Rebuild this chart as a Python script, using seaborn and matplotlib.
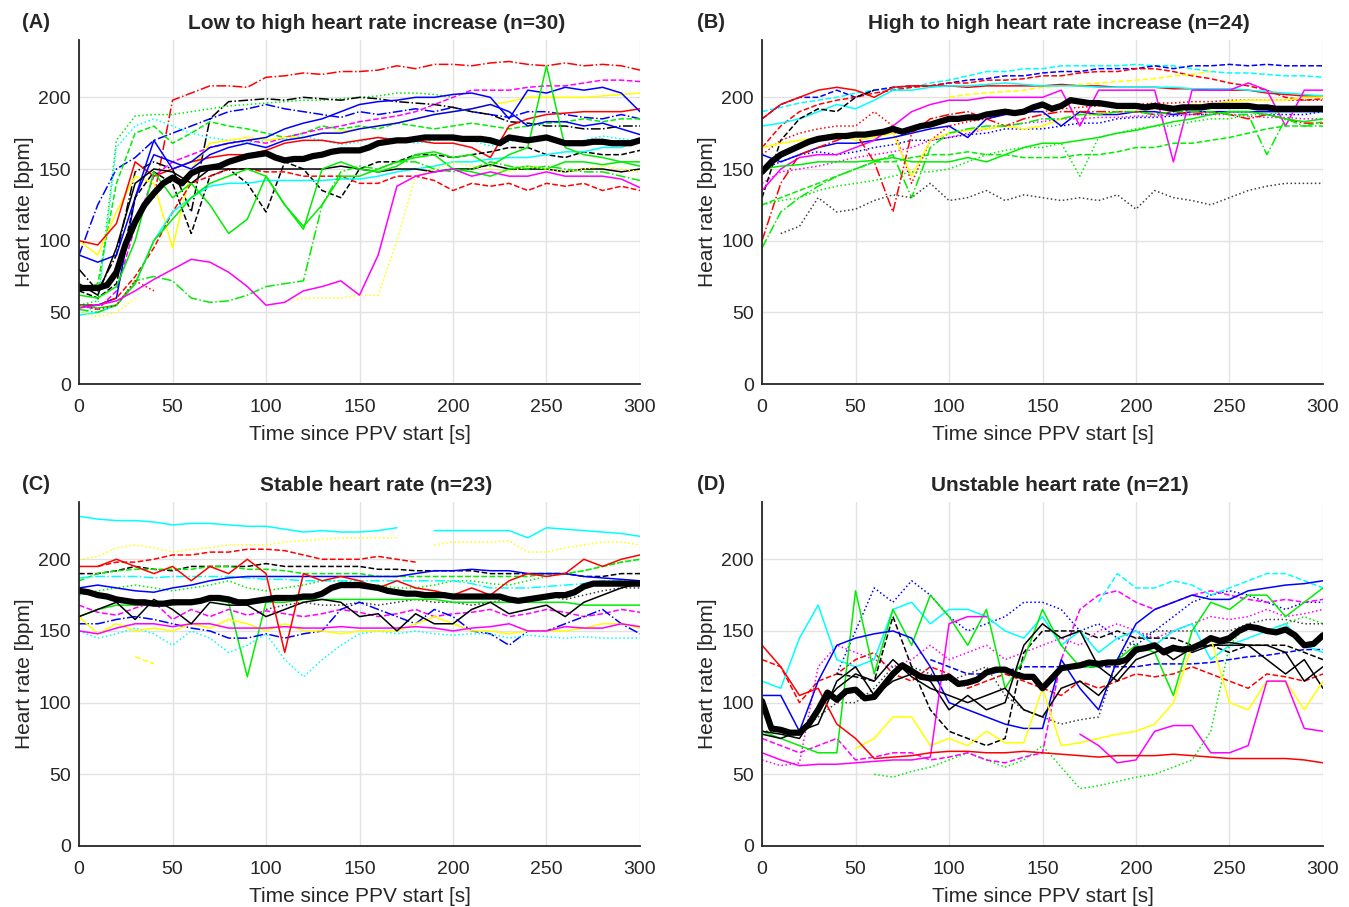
import numpy as np
import pandas as pd
import seaborn as sns
import matplotlib
matplotlib.use('Agg')
import matplotlib.pyplot as plt

N = np.nan
T10 = list(range(0, 301, 10))
T5 = list(range(0, 301, 5))

# ---------- (A) Low to high heart rate increase ----------
A_MEAN = [67, 67, 67, 69, 78, 98, 113, 125, 133, 140, 144, 140, 147, 150, 151, 152, 155, 157, 159, 160,
          161, 158, 156, 157, 157, 159, 160, 162, 163, 163, 163, 165, 168, 169, 170, 170, 171, 172, 172, 172,
          172, 171, 171, 171, 170, 168, 172, 171, 170, 171, 172, 170, 168, 168, 168, 169, 169, 168, 168, 168, 170]
A_RED_DD = [N, N, N, N, 130, 198, 203, 208, 208, 207, 214, 215, 217, 216, 218, 218, 219, 222, 220, 223,
            223, 222, 224, 225, 223, 222, 224, 222, 223, 222, 219]
A_GRN_DOT = [55, 58, 170, 187, 188, 188, 190, 192, 194, 195, 196, 197, 198, 198, 199, 200, 201, 203, 203, 202,
             200, N, N, N, N, N, N, N, N, N, N]
A_BLU_DD = [90, 125, 150, 158, 170, 175, 180, 185, 190, 192, 195, 192, 190, 188, 186, 190, 188, 190, 192, 190,
            193, 190, 188, 186, 190, 190, 188, 186, 185, 188, 185]
A_BLU_1 = [55, 55, 60, 130, 170, 150, 155, 165, 168, 170, 172, 178, 182, 185, 190, 195, 197, 198, 200, 200,
           202, 203, 200, 185, 205, 203, 207, 205, 207, 203, 190]
A_BLU_2 = [90, 85, 90, 130, 160, 155, 150, 160, 165, 168, 165, 170, 172, 175, 175, 178, 180, 182, 185, 188,
           190, 192, 195, 190, 180, 183, 183, 180, 182, 178, 174]
A_BLK_DD = [80, 65, 90, 148, 155, 150, 120, 185, 197, 198, 199, 198, 200, 199, 198, 200, 199, 197, 196, 195,
            193, 190, 188, 183, 182, 180, 180, 178, 178, 180, 180]
A_YEL = [100, 90, 120, 145, 140, 95, 150, 168, 170, 172, 170, 172, 172, 175, 176, 178, 180, 182, 185, 188,
         190, 192, 195, 197, 200, 200, 200, 200, 201, 202, 203]
A_RED = [100, 97, 112, 155, 145, 150, 155, 158, 160, 160, 163, 168, 170, 170, 168, 170, 172, 170, 170, 168,
         168, 165, 158, 180, 185, 188, 189, 190, 190, 190, 192]
A_GRN_1 = [62, 60, 68, 100, 148, 130, 140, 125, 105, 115, 145, 125, 110, 125, 145, 145, 150, 155, 158, 160,
           150, 148, 145, 150, 152, 150, 155, 155, 153, 155, 155]
A_GRN_2 = [55, 53, 55, 70, 100, 115, 130, 140, 145, 150, 145, 125, 108, 150, 155, 150, 148, 152, 160, 162,
           158, 160, 152, 160, 165, 222, 165, 160, 158, 155, 152]
A_MAG = [53, 55, 58, 65, 73, 80, 87, 85, 78, 68, 55, 57, 65, 68, 72, 62, 90, 138, 145, 148,
         150, 145, 148, 145, 145, 148, 145, 145, 145, 143, 137]
A_GRN_DD = [52, 50, 55, 72, 75, 72, 60, 57, 58, 62, 68, 70, 72, 125, 148, 152, 150, 155, 155, 150,
            148, 150, 155, 152, 150, 152, 150, 148, 148, 145, 142]
A_YEL_DOT = [50, 47, 50, 60, N, N, N, N, N, N, N, 58, 60, 60, 60, 62, 62, 100, 145, 150,
             155, 152, 150, 148, 152, 150, 148, 150, 152, 150, 148]
A_CYN = [48, 50, 55, 70, 100, 120, 130, 138, 140, 140, 142, 142, 142, 142, 143, 143, 145, 148, 150, 152,
         155, 155, 157, 158, 158, 160, 162, 162, 165, 165, 170]
A_BLK = [70, 62, 95, 140, 150, 148, 140, 150, 150, 150, 150, 150, 150, 150, 152, 150, 148, 150, 150, 148,
         150, 150, 153, 150, 150, 150, 148, 150, 150, 148, 150]
A_BLK_DASH = [65, 60, 70, 130, 148, 140, 105, 145, 150, 140, 120, 155, 150, 135, 130, 150, 155, 155, 160, 160,
              158, 160, 162, 165, 165, 160, 158, 162, 160, 160, 163]
A_RED_DASH = [55, 55, 60, 75, 95, 120, 140, 145, 150, 150, 148, 148, 145, 145, 145, 140, 140, 145, 145, 142,
              135, 140, 138, 140, 135, 140, 138, 140, 135, 138, 135]
A_MAG_DASH = [55, 52, 65, 110, 145, 155, 160, 165, 168, 170, 168, 172, 175, 178, 180, 183, 185, 187, 190, 195,
              200, 205, 205, 205, 207, 208, 208, 210, 212, 212, 211]
A_RED_DOT = [55, 52, 55, 72, 65, N, N, N, N, N, N, N, N, N, N, N, N, N, N, N,
             N, N, N, N, N, N, N, N, N, N, N]
A_CYN_DOT = [48, 55, 165, 180, 185, 180, 175, 172, 170, 168, 170, 171, 173, 170, 167, 169, 172, 171, 168, 170,
             173, 170, 166, 169, 172, 171, 168, 170, 173, 171, 170]
A_GRN_DASH = [65, 70, 140, 175, 180, 168, 175, 183, 180, 178, 175, 172, 175, 180, 178, 180, 178, 182, 180, 178,
              180, 182, 180, 178, 180, 182, 183, 185, 183, 185, 185]

# ---------- (B) High to high heart rate increase ----------
B_MEAN = [148, 155, 160, 163, 166, 169, 171, 172, 173, 173, 174, 174, 175, 176, 178, 176, 178, 180, 181, 183,
          185, 185, 186, 186, 188, 189, 190, 189, 190, 193, 195, 192, 194, 198, 197, 196, 196, 195, 194, 194,
          194, 193, 194, 193, 192, 193, 193, 193, 194, 194, 194, 194, 194, 193, 193, 192, 192, 192, 192, 192, 192]
B_RED = [185, 195, 200, 205, 207, 205, 200, 207, 208, 208, 208, 207, 208, 208, 208, 208, 209, 208, 208, 207,
         207, 207, 206, 206, 205, 205, 205, 203, 202, 201, 201]
B_CYN = [180, 182, 185, 190, 195, 192, 198, 205, 205, 207, 208, 208, 209, 210, 209, 208, 208, 208, 207, 207,
         207, 207, 207, 206, 206, 206, 205, 204, 203, 202, 201]
B_CYN_DASH = [190, 193, 196, 198, 200, 203, 205, 206, 207, 210, 212, 215, 218, 218, 220, 220, 222, 222, 222, 222,
              223, 222, 222, 220, 218, 217, 217, 216, 215, 215, 214]
B_BLU_DASH = [185, 195, 200, 200, 205, 200, 205, 207, 208, 208, 210, 212, 213, 215, 215, 217, 218, 218, 220, 220,
              220, 222, 220, 222, 222, 223, 222, 223, 222, 222, 222]
B_RED_DASH = [165, 180, 190, 195, 198, 200, 203, 205, 207, 208, 210, 210, 212, 212, 213, 215, 215, 217, 218, 218,
              220, 220, 218, 215, 213, 210, 208, 205, 200, 198, 199]
B_RED_DD = [100, 140, 160, 165, 170, 175, 155, 120, 175, 185, 188, 190, 185, 180, 185, 188, 190, 190, 190, 190,
            190, 188, 190, 188, 190, 188, 185, 188, 185, 182, 182]
B_BLK_DASH = [130, 170, 185, 192, 190, 200, 205, N, N, N, N, N, N, N, N, N, N, N, N, N,
              N, N, N, N, N, N, N, N, N, N, N]
B_MAG = [135, 150, 158, 160, 160, 165, 170, 180, 190, 195, 198, 198, 200, 200, 200, 200, 205, 180, 205, 205,
         205, 205, 155, 205, 205, 205, 210, 205, 180, 205, 205]
B_YEL = [165, 168, 170, 172, 175, 170, 172, 175, 145, 170, 175, 177, 178, 180, 178, 180, 185, 188, 188, 190,
         190, 192, 192, 195, 195, 197, 198, 198, 198, 200, 200]
B_YEL_DASH = [N, N, N, N, N, N, N, N, N, N, 200, 202, 203, 204, 205, 207, 208, 209, 210, 211,
              212, 213, 215, 216, 218, N, N, N, N, N, N]
B_GRN = [150, 152, 153, 155, 155, 155, 156, 158, 155, 155, 155, 158, 155, 160, 165, 168, 168, 170, 172, 175,
         177, 180, 183, 185, 188, 190, 190, 188, 185, 183, 185]
B_GRN_DASH = [125, 130, 135, 140, 145, 150, 155, 155, 158, 160, 160, 162, 160, 160, 158, 158, 158, 160, 160, 162,
              165, 165, 168, 168, 170, 172, 175, 178, 180, 180, 183]
B_GRN_DD = [95, 120, 130, 138, 145, 150, 155, 160, 130, 165, 175, 178, 180, 180, 182, 185, 185, 188, 188, 190,
            190, 188, 190, 190, 190, 188, 188, 160, 185, 180, 180]
B_GRN_DOT = [125, 128, 130, 135, 138, 140, 142, 145, 148, 148, 150, 155, 160, 163, 165, 165, 168, 145, 172, 175,
             178, 180, 180, 183, 185, 185, 188, 188, 190, 190, 190]
B_GRY_DOT = [N, 105, 110, 130, 120, 122, 128, 132, 130, 140, 128, 130, 135, 128, 132, 130, 128, 130, 128, 132,
             122, 135, 130, 128, 125, 130, 135, 138, 140, 140, 140]
B_BLU = [160, 155, 160, 165, 168, 168, 170, 172, 175, 178, 180, 172, 185, 188, 190, 190, 180, 190, 188, 188,
         190, 190, 188, 190, 190, 190, 190, 190, 190, 190, 190]
B_BLU_DOT = [150, 155, 160, 162, 160, 162, 165, 167, 170, 170, 172, 174, 175, 178, 178, 178, 180, 182, 182, 185,
             186, 186, 187, 188, 188, 190, 190, 188, 188, 188, 190]
B_MAG_DOT = [140, 148, 150, 152, 155, 158, 160, 162, 165, 170, 172, 175, 178, 180, 182, 183, 185, 185, 186, 186,
             187, 187, 188, 188, 188, 188, 187, 186, 186, 185, 185]
B_RED_DOT = [160, 170, 175, 178, 180, 180, 190, 180, 140, 170, 180, 183, 185, 188, 190, 190, 192, 193, 194, 195,
             195, 196, 196, 197, 197, 198, 198, 198, 198, 198, 198]

# ---------- (C) Stable heart rate ----------
C_MEAN = [178, 177, 175, 174, 172, 171, 170, 170, 169, 169, 170, 170, 170, 171, 173, 173, 172, 170, 170, 171,
          172, 173, 173, 173, 174, 174, 176, 180, 182, 182, 182, 181, 180, 178, 177, 176, 176, 175, 175, 175,
          174, 174, 174, 174, 174, 174, 172, 171, 172, 173, 174, 175, 175, 177, 181, 183, 183, 183, 183, 183, 183]
C_CYN = [230, 228, 227, 227, 226, 224, 225, 225, 224, 223, 223, 221, 219, 220, 219, 219, 220, 222, N, 220,
         220, 220, 220, 220, 215, 222, 221, 220, 219, 218, 216]
C_YEL_DOT = [200, 202, 208, 210, 208, 205, 207, 208, 210, 210, 210, 212, 213, 214, 215, 215, 215, 215, N, 210,
             212, 212, 212, 213, 205, 205, 208, 210, 212, 212, 210]
C_RED_DASH = [N, 195, 198, 198, 200, 203, 203, 205, 205, 207, 207, 206, 203, 200, 200, 200, 202, 200, 198, N,
              N, N, N, N, N, N, N, N, N, N, N]
C_RED = [195, 195, 200, 195, 190, 195, 185, 195, 190, 200, 190, 135, 190, 185, 188, 185, 180, 185, 180, 178,
         175, 180, 175, 185, 190, 188, 190, 200, 195, 200, 203]
C_BLK_DASH = [190, 190, 192, 195, 193, 192, 195, 195, 195, 195, 197, 195, 195, 195, 195, 195, 193, 193, 192, 192,
              192, 192, 190, 190, 190, 190, 190, 188, 188, 190, 190]
C_GRN_DASH = [185, 190, 192, 193, 193, 193, 193, 195, 195, 193, 193, 192, 190, 190, 190, 190, 188, 188, 188, 188,
              188, 188, 188, 188, 188, 190, 190, 192, 195, 198, 200]
C_BLU = [180, 182, 180, 178, 177, 180, 182, 185, 187, 188, 188, 188, 188, 188, 188, 188, 188, 188, 190, 192,
         192, 193, 192, 192, 190, 190, 190, 188, 187, 186, 185]
C_CYN_DD = [187, 188, 188, 188, 187, 188, 188, 188, 188, 187, 186, 186, 185, 185, 185, 185, 185, 185, 185, 185,
            185, 183, 180, 180, 180, 181, 182, 183, 185, 185, 185]
C_GRN = [160, 165, 168, 168, 168, 168, 170, 172, 170, 118, 170, 170, 172, 172, 172, 172, 172, 172, 172, 172,
         170, 170, 170, 170, 170, 170, 170, 168, 168, 168, 168]
C_BLK = [160, 165, 170, 158, 172, 165, 155, 170, 168, 168, 160, 165, 170, 172, 170, 160, 162, 150, 162, 155,
         155, 165, 170, 162, 165, 168, 160, 170, 175, 180, 183]
C_MAG = [150, 148, 152, 155, 155, 153, 155, 155, 152, 152, 152, 153, 152, 152, 153, 152, 152, 152, 153, 152,
         150, 152, 153, 155, 150, 150, 153, 152, 152, 155, 153]
C_YEL = [160, 148, 155, 150, 152, 150, 155, 152, 158, 155, 150, 155, 150, 150, 148, 150, 150, 150, 155, 160,
         155, 150, 150, 148, 150, 150, 150, 152, 155, 155, 152]
C_BLU_DD = [155, 155, 158, 160, 158, 155, 152, 150, 145, 145, 148, 145, 148, 150, 165, 170, 165, 160, 155, 165,
            160, 150, 148, 140, 150, 150, 155, 160, 165, 155, 148]
C_CYN_DOT = [150, 145, 148, 152, 148, 140, 150, 145, 135, 140, 148, 130, 118, 130, 140, 148, 150, 148, 150, 148,
             147, 148, 148, 145, 147, 146, 145, 146, 145, 145, 145]
C_YEL_DASH = [N, N, N, 132, 127, N, N, N, N, N, N, N, N, N, N, N, N, N, N, N,
              N, N, N, N, N, N, N, N, N, N, N]
C_MAG_DASH = [168, 163, 161, 166, 170, 158, 165, 160, 165, 161, 164, 162, 160, 162, 165, 163, 160, 162, 165, 160,
              162, 163, 165, 160, 162, 165, 163, 160, 162, 165, 163]
C_GRY_DOT = [N, N, N, N, N, N, N, N, N, N, 165, 168, 170, 168, 168, 170, 168, 170, 172, 170,
             170, 168, 170, 172, 172, 175, 172, 175, 178, 180, 180]
C_GRN_DOT = [175, 178, 180, 182, 180, 178, 180, 182, 185, 180, 178, 180, 182, 185, 185, 183, 182, 180, 180, 182,
             185, 185, 183, 182, 185, 188, 190, 192, 195, 198, 200]

# ---------- (D) Unstable heart rate ----------
D_MEAN = [101, 82, 81, 79, 79, 85, 95, 107, 102, 108, 109, 103, 104, 112, 120, 126, 122, 118, 117, 117,
          118, 113, 114, 116, 121, 123, 123, 120, 118, 118, 110, 117, 124, 125, 126, 128, 127, 128, 128, 130,
          137, 138, 140, 135, 138, 137, 138, 141, 145, 143, 145, 150, 153, 152, 150, 149, 151, 147, 140, 141, 147]
D_RED = [140, 125, 105, 110, 85, 75, 61, 62, 63, 65, 66, 66, 65, 65, 66, 65, 64, 63, 62, 63,
         63, 63, 64, 63, 62, 61, 61, 61, 61, 60, 58]
D_CYN = [115, 110, 145, 168, 130, 125, 130, 165, 170, 155, 165, 165, 160, 150, 145, 160, 140, 150, 135, 145,
         150, 140, 150, 155, 130, 140, 145, 150, 155, 140, 135]
D_BLU = [105, 105, 80, 115, 140, 145, 148, 150, 145, 125, 100, 95, 90, 85, 82, 82, 130, 110, 95, 130,
         155, 165, 170, 175, 172, 172, 178, 180, 182, 183, 185]
D_GRN = [80, 75, 70, 65, 65, 178, 120, 165, 140, 175, 160, 140, 165, 110, 130, 165, 140, 125, 125, 130,
         140, 135, 105, 150, 170, 165, 175, 175, 160, 170, 180]
D_YEL = [N, N, N, N, N, 68, 75, 90, 90, 70, 75, 70, 80, 72, 72, 110, 70, 72, 75, 78,
         80, 85, 100, 140, 145, 100, 95, 115, 115, 95, 115]
D_MAG = [65, 60, 56, 57, 57, 58, 59, 60, 60, 62, 155, 160, 160, N, N, N, N, N, N, N,
         N, N, N, N, N, N, N, N, N, N, N]
D_MAG_2 = [N, N, N, N, N, N, N, N, N, N, N, N, N, N, N, N, N, 78, 70, 58,
           60, 80, 84, 84, 65, 65, 70, 115, 115, 82, 80]
D_BLK_1 = [78, 75, 80, 85, 115, 125, 105, 115, 120, 115, 95, 105, 95, 100, 140, 155, 145, 150, 125, 115,
           130, 135, 140, 135, 140, 140, 140, 140, 135, 115, 125]
D_BLK_2 = [80, 78, 75, 95, 110, 120, 115, 130, 118, 110, 105, 100, 105, 110, 95, 90, 110, 115, 105, 120,
           135, 140, 130, 138, 140, 142, 140, 130, 120, 130, 110]
D_BLK_DASH = [N, N, N, N, 120, 118, 115, 160, 125, 95, 80, 75, 70, 75, 135, 150, 150, 150, 145, 150,
              145, 145, 145, 140, 140, 135, 140, 140, 140, 135, 130]
D_GRY_DOT = [80, 80, 80, 90, 100, 100, 110, 125, 125, 120, 115, 120, 125, 105, 95, 90, 85, 88, 90, 130,
             145, 150, 150, 150, 150, 150, 155, 158, 158, 155, 155]
D_GRN_DOT = [N, N, N, N, N, N, 50, 48, 52, 55, 60, 65, 60, 55, 60, 70, 55, 40, 42, 45,
             48, 50, 55, 60, 80, 140, 155, 150, 155, 160, 155]
D_BLU_DOT = [N, N, N, N, 120, 150, 180, 170, 185, 175, 160, 150, 155, 160, 170, 170, 165, 150, 155, 145,
             140, 150, 160, 170, 175, 178, 175, 170, 165, 170, 170]
D_MAG_DASH = [75, 70, 65, 70, 75, 60, 62, 65, 65, 60, 62, 65, 60, 58, 62, 65, 130, 165, 175, 178,
              170, 165, 170, 175, 178, 175, 172, 170, 172, 170, 172]
D_CYN_DASH = [N, N, N, N, N, N, N, N, N, N, N, N, N, N, N, N, N, N, 170, 190,
              180, 180, 185, 182, 175, 180, 185, 190, 190, 185, 180]
D_BLU_DASH = [N, N, N, N, N, N, N, N, N, 130, 125, 120, 120, 122, 125, 125, 125, 125, 125, 125,
              125, 127, 127, 127, 128, 130, 132, 133, 135, 137, 137]
D_RED_DASH = [130, 125, 100, 115, 120, 130, 135, 120, 115, 125, 120, 110, 115, 120, 115, 110, 105, 115, 110, 115,
              120, 118, 120, 125, 120, 115, 110, 120, 118, 115, 120]
D_PNK_DOT = [60, 56, 58, 125, 140, 135, 130, 125, 130, 140, 130, 135, 140, 130, 135, 140, 145, 140, 150, 155,
             150, 145, 150, 155, 160, 158, 160, 165, 160, 162, 165]

TITLES = ['Low to high heart rate increase (n=30)', 'High to high heart rate increase (n=24)',
          'Stable heart rate (n=23)', 'Unstable heart rate (n=21)']
LETTERS = ['(A)', '(B)', '(C)', '(D)']

R, G, B, C, M, Y, K, GR = '#ff0000', '#00ee00', '#0000ff', '#00ffff', '#ff00ff', '#ffff00', '#000000', '#404040'

PANELS = [
    (A_MEAN, [(A_RED_DD, R, '-.'), (A_GRN_DOT, G, ':'), (A_BLU_DD, B, '-.'), (A_BLK_DD, K, '-.'),
              (A_CYN_DOT, C, ':'), (A_GRN_DASH, G, '--'), (A_MAG_DASH, M, '--'), (A_YEL, Y, '-'),
              (A_RED, R, '-'), (A_BLU_2, B, '-'), (A_BLU_1, B, '-'), (A_BLK_DASH, K, '--'),
              (A_RED_DASH, R, '--'), (A_CYN, C, '-'), (A_BLK, K, '-'), (A_GRN_1, G, '-'),
              (A_GRN_2, G, '-'), (A_GRN_DD, G, '-.'), (A_YEL_DOT, Y, ':'), (A_RED_DOT, R, ':'),
              (A_MAG, M, '-')]),
    (B_MEAN, [(B_CYN_DASH, C, '--'), (B_BLU_DASH, B, '--'), (B_RED_DASH, R, '--'), (B_YEL_DASH, Y, '--'),
              (B_RED, R, '-'), (B_CYN, C, '-'), (B_BLK_DASH, K, '--'), (B_RED_DOT, R, ':'),
              (B_MAG_DOT, M, ':'), (B_BLU_DOT, B, ':'), (B_YEL, Y, '-'), (B_BLU, B, '-'),
              (B_MAG, M, '-'), (B_RED_DD, R, '-.'), (B_GRN_DD, G, '-.'), (B_GRN_DOT, G, ':'),
              (B_GRN_DASH, G, '--'), (B_GRN, G, '-'), (B_GRY_DOT, GR, ':')]),
    (C_MEAN, [(C_CYN, C, '-'), (C_YEL_DOT, Y, ':'), (C_RED_DASH, R, '--'), (C_GRN_DOT, G, ':'),
              (C_BLK_DASH, K, '--'), (C_GRN_DASH, G, '--'), (C_CYN_DD, C, '-.'), (C_BLU, B, '-'),
              (C_GRY_DOT, GR, ':'), (C_GRN, G, '-'), (C_MAG_DASH, M, '--'), (C_BLU_DD, B, '-.'),
              (C_CYN_DOT, C, ':'), (C_YEL, Y, '-'), (C_MAG, M, '-'), (C_BLK, K, '-'),
              (C_YEL_DASH, Y, '--'), (C_RED, R, '-')]),
    (D_MEAN, [(D_GRN_DOT, G, ':'), (D_PNK_DOT, M, ':'), (D_BLU_DOT, B, ':'), (D_MAG_DASH, M, '--'),
              (D_CYN_DASH, C, '--'), (D_BLU_DASH, B, '--'), (D_RED_DASH, R, '--'), (D_GRY_DOT, GR, ':'),
              (D_BLK_DASH, K, '--'), (D_CYN, C, '-'), (D_GRN, G, '-'), (D_BLU, B, '-'),
              (D_BLK_1, K, '-'), (D_BLK_2, K, '-'), (D_YEL, Y, '-'), (D_MAG, M, '-'),
              (D_MAG_2, M, '-'), (D_RED, R, '-')]),
]

sns.set_theme(style='whitegrid')
plt.rcParams['font.family'] = ['Liberation Sans', 'DejaVu Sans']


def draw(ax, t, y, color, ls, lw):
    # split at gaps so missing stretches stay empty
    df = pd.DataFrame({'t': t, 'hr': y})
    df['seg'] = df['hr'].isna().cumsum()
    df = df.dropna()
    for _, g in df.groupby('seg'):
        if len(g) > 1:
            sns.lineplot(data=g, x='t', y='hr', ax=ax, color=color, linestyle=ls, lw=lw,
                         estimator=None, sort=False)


fig = plt.figure(figsize=(13.49, 9.07), dpi=100)
W, H = 0.4158, 0.3793
boxes = [(0.0586, 0.5766), (0.5649, 0.5766), (0.0586, 0.0673), (0.5649, 0.0673)]
letter_xy = [(0.0163, 0.9757), (0.5167, 0.9757), (0.0163, 0.4653), (0.5167, 0.4653)]

for i, (mean, series) in enumerate(PANELS):
    ax = fig.add_axes([boxes[i][0], boxes[i][1], W, H])
    for y, col, ls in series:
        assert len(y) == len(T10)
        draw(ax, T10, y, col, ls, 1.1)
    assert len(mean) == len(T5)
    draw(ax, T5, mean, 'black', '-', 4.5)

    ax.set_xlim(0, 300)
    ax.set_ylim(0, 240)
    ax.set_xticks(range(0, 301, 50))
    ax.set_yticks(range(0, 201, 50))
    ax.grid(True, color='#e2e2e2', lw=1)
    ax.set_facecolor('white')
    for s in ['top', 'right']:
        ax.spines[s].set_visible(False)
    for s in ['left', 'bottom']:
        ax.spines[s].set_color('#262626')
        ax.spines[s].set_linewidth(1.3)
    ax.tick_params(labelsize=14, colors='#262626', direction='in', length=3)
    ax.tick_params(axis='x', pad=11)
    ax.tick_params(axis='y', pad=6)
    ax.set_xlabel('Time since PPV start [s]', fontsize=15, color='#262626', labelpad=6)
    ax.set_ylabel('Heart rate [bpm]', fontsize=15, color='#262626', labelpad=3)
    ax.set_title(TITLES[i], fontsize=15, fontweight='bold', pad=8, x=0.53)
    fig.text(letter_xy[i][0], letter_xy[i][1], LETTERS[i], fontsize=14.5, fontweight='bold',
             ha='left', va='center')

fig.savefig('out.png', dpi=100)
